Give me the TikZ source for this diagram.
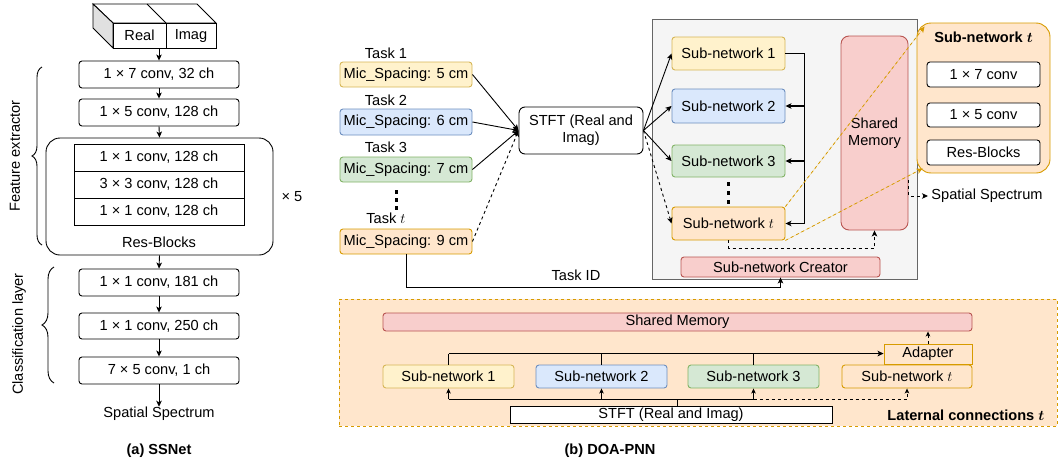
\documentclass[tikz,border=0pt]{standalone}
\usepackage{amsmath}
\usepackage{fontspec}
\setmainfont{Liberation Sans}
\usetikzlibrary{arrows.meta,decorations.pathreplacing,calc}
\definecolor{yfill}{HTML}{FFF2CC}\definecolor{ydraw}{HTML}{D6B656}
\definecolor{bfill}{HTML}{DAE8FC}\definecolor{bdraw}{HTML}{6C8EBF}
\definecolor{gfill}{HTML}{D5E8D4}\definecolor{gdraw}{HTML}{82B366}
\definecolor{ofill}{HTML}{FFE6CC}\definecolor{odraw}{HTML}{D79B00}
\definecolor{rfill}{HTML}{F8CECC}\definecolor{rdraw}{HTML}{B85450}
\definecolor{cfill}{HTML}{F5F5F5}\definecolor{cdraw}{HTML}{666666}
\begin{document}
\begin{tikzpicture}[x=1pt,y=-1pt,line width=0.9pt,
  font=\fontsize{14.6}{17}\selectfont,
  box/.style={draw,rounded corners=3pt,inner sep=0pt,align=center,fill=white},
  sq/.style={draw,inner sep=0pt,align=center,fill=white},
  yb/.style={box,fill=yfill,draw=ydraw},
  bb/.style={box,fill=bfill,draw=bdraw},
  gb/.style={box,fill=gfill,draw=gdraw},
  ob/.style={box,fill=ofill,draw=odraw},
  rb/.style={box,fill=rfill,draw=rdraw},
  lbl/.style={inner sep=0pt,align=center},
  arr/.style={-{Stealth[length=6pt,width=5.5pt,inset=1.5pt]}},
  sarr/.style={-{Stealth[length=5pt,width=4.5pt,inset=1.2pt]}},
  dsh/.style={dash pattern=on 3pt off 3pt},
  bracestyle/.style={decorate,decoration={brace,amplitude=#1}}]
\useasboundingbox (0,0) rectangle (1059,466);

% ================= (a) SSNet =================
\draw[fill=white] (113,23) -- (93,4) -- (197,4) -- (216,23) -- cycle;
\draw[fill=black!12] (93,4) -- (93,28) -- (113,48) -- (113,23) -- cycle;
\draw (147,4) -- (166,23);
\node[sq,minimum width=53,minimum height=25] (real) at (139.5,35.5) {Real};
\node[sq,minimum width=50,minimum height=25] (imag) at (191,35.5) {Imag};

\node[box,minimum width=160,minimum height=27] (c1) at (159,74.5) {1 × 7 conv, 32 ch};
\node[box,minimum width=160,minimum height=27] (c2) at (159,112.5) {1 × 5 conv, 128 ch};
\node[box,rounded corners=14pt,minimum width=227,minimum height=117] (res) at (159.5,196.5) {};
\node[sq,minimum width=170,minimum height=27] (r1) at (159,157.5) {1 × 1 conv, 128 ch};
\node[sq,minimum width=170,minimum height=27] (r2) at (159,184.5) {3 × 3 conv, 128 ch};
\node[sq,minimum width=170,minimum height=27] (r3) at (159,211.5) {1 × 1 conv, 128 ch};
\node[lbl] (reslbl) at (159,242) {Res-Blocks};
\node[lbl] (times5) at (292,197) {× 5};
\node[box,minimum width=160,minimum height=27] (c3) at (159,282.5) {1 × 1 conv, 181 ch};
\node[box,minimum width=160,minimum height=26] (c4) at (159,326) {1 × 1 conv, 250 ch};
\node[box,minimum width=160,minimum height=27] (c5) at (159,370.5) {7 × 5 conv, 1 ch};
\node[lbl] (ss1) at (159,414) {Spatial Spectrum};
\node[lbl,font=\fontsize{14.6}{17}\selectfont\bfseries] (capa) at (159,451) {(a) SSNet};

\draw[arr] (real.south east -| c1.north) -- (c1.north);
\draw[arr] (c1) -- (c2);
\draw[arr] (c2.south) -- (res.north);
\draw[arr] (res.south) -- (c3.north);
\draw[arr] (c3) -- (c4);
\draw[arr] (c4) -- (c5);
\draw[arr] (c5.south) -- (ss1.north);

\draw[bracestyle=10pt] (42,245) -- (42,67);
\node[lbl,rotate=90] (fe) at (15,156) {Feature extractor};
\draw[bracestyle=12pt] (54,383) -- (54,267);
\node[lbl,rotate=90] (cl) at (19,334) {Classification layer};

% ================= (b) DOA-PNN top =================
\node[draw=cdraw,fill=cfill,minimum width=265,minimum height=260,inner sep=0] (cont) at (784.5,149) {};

\node[lbl] (t1) at (386,53) {Task 1};
\node[lbl] (t2) at (386,100) {Task 2};
\node[lbl] (t3) at (386,147) {Task 3};
\node[lbl] (tt) at (386,218) {Task $t$};
\node[yb,minimum width=132,minimum height=25] (m1) at (406,74.5) {Mic\_Spacing: 5 cm};
\node[bb,minimum width=132,minimum height=26] (m2) at (406,122) {Mic\_Spacing: 6 cm};
\node[gb,minimum width=132,minimum height=25] (m3) at (406,169.5) {Mic\_Spacing: 7 cm};
\node[ob,minimum width=132,minimum height=25] (mt) at (406,241.5) {Mic\_Spacing: 9 cm};
\foreach \yy in {192,200,208} \fill (394.5,\yy-2) rectangle ++(3.2,4);

\node[box,rounded corners=6pt,minimum width=124,minimum height=47] (stft) at (581,130.5) {STFT (Real and\\Imag)};
\draw[arr] (m1.east) -- (stft.west);
\draw[arr] (m2.east) -- (stft.west);
\draw[arr] (m3.east) -- (stft.west);
\draw[arr,dsh] (mt.east) -- (stft.west);

\node[yb,minimum width=113,minimum height=33] (s1) at (728.5,53.5) {Sub-network 1};
\node[bb,minimum width=113,minimum height=34] (s2) at (728.5,106) {Sub-network 2};
\node[gb,minimum width=113,minimum height=32] (s3) at (728.5,161) {Sub-network 3};
\node[ob,minimum width=113,minimum height=33] (st) at (728.5,223.5) {Sub-network $t$};
\foreach \yy in {184,193,202} \fill (726.5,\yy-2) rectangle ++(3.2,4);
\node[rb,rounded corners=8pt,minimum width=67,minimum height=194] (sm) at (874.5,133) {Shared\\Memory};
\node[rb,minimum width=199,minimum height=20] (cr) at (780.5,267) {Sub-network Creator};

\draw[arr] (stft.east) -- (s1.west);
\draw[arr] (stft.east) -- (s2.west);
\draw[arr] (stft.east) -- (s3.west);
\draw[arr,dsh] (stft.east) -- (st.west);

\draw[line width=1.4pt] (s1.east) -- ++(19,0) coordinate (br) -- (br |- st.east);
\draw[arr,line width=1.4pt] (br |- st.east) -- (st.east);
\draw[arr,line width=1.4pt] (br |- s2.east) -- (s2.east);
\draw[arr,line width=1.4pt] (br |- s3.east) -- (s3.east);

\draw[arr,dsh] (st.south) -- ++(0,8) -| (sm.south);

\draw[arr] (mt.south) -- ++(0,33) -| (cr.south);
\node[lbl] (tid) at (576,275) {Task ID};

% detail box
\node[ob,rounded corners=14pt,minimum width=133,minimum height=150] (det) at (983.5,98) {};
\node[lbl,font=\fontsize{14.6}{17}\selectfont\bfseries] (dett) at (983.5,37) {Sub-network $\boldsymbol{t}$};
\node[box,minimum width=113,minimum height=25] (d1) at (983.5,74.5) {1 × 7 conv};
\node[box,minimum width=113,minimum height=24] (d2) at (983.5,115) {1 × 5 conv};
\node[box,minimum width=113,minimum height=25] (d3) at (983.5,152.5) {Res-Blocks};
\coordinate (dtop) at ($(det.north west)+(8,4)$);
\coordinate (dbot) at ($(det.south west)+(6,-5)$);
\draw[arr,dsh,draw=odraw,fill=odraw,line width=0.8pt] (st.north east) -- (dtop);
\draw[arr,dsh,draw=odraw,fill=odraw,line width=0.8pt] (st.south east) -- (dbot);

\node[lbl,anchor=west] (ss2) at (931,196) {Spatial Spectrum};
\coordinate (smr) at ($(sm.south east)+(0,-50)$);
\coordinate (ssin) at ($(ss2.west)+(-3,0)$);
\draw[arr,dsh] (smr) |- (ssin);

% ================= (b) DOA-PNN bottom =================
\node[draw=odraw,fill=ofill,dsh,minimum width=718,minimum height=127,inner sep=0] (lat) at (698,362.5) {};
\node[rb,minimum width=589,minimum height=18] (smb) at (677.5,322) {Shared Memory};
\node[sq,fill=ofill,draw=odraw,minimum width=88,minimum height=20] (ad) at (928,354) {Adapter};
\node[yb,minimum width=131,minimum height=23] (b1) at (448.5,376.5) {Sub-network 1};
\node[bb,minimum width=131,minimum height=23] (b2) at (601.5,376.5) {Sub-network 2};
\node[gb,minimum width=131,minimum height=23] (b3) at (753.5,376.5) {Sub-network 3};
\node[ob,minimum width=130,minimum height=23] (bt) at (907,376.5) {Sub-network $t$};
\node[sq,minimum width=322,minimum height=17] (bst) at (671,414.5) {STFT (Real and Imag)};
\node[lbl,anchor=west,font=\fontsize{14.6}{17}\selectfont\bfseries] (latl) at (887,415) {Laternal connections $\boldsymbol{t}$};

\draw (b1.north) -- ++(0,-11) coordinate (tl);
\draw[arr] (tl) -- (tl -| ad.west);
\draw (b2.north) -- (b2.north |- tl);
\draw (b3.north) -- (b3.north |- tl);
\coordinate (bl) at ($(b1.south)+(0,11)$);
\draw (bl) -- (bl -| b3.south);
\draw ($(bst.north)+(6,0)$) -- ++(0,-7);
\draw[sarr] (bl) -- (b1.south);
\draw[sarr] (bl -| b2.south) -- (b2.south);
\draw[sarr] (bl -| b3.south) -- (b3.south);
\draw[sarr,dsh] (bl -| b3.south) -- (bl -| bt.south) -- (bt.south);
\draw[sarr,dsh] (ad.north) -- (ad.north |- smb.south);

\node[lbl,font=\fontsize{14.6}{17}\selectfont\bfseries] (capb) at (610,451) {(b) DOA-PNN};
\end{tikzpicture}
\end{document}
